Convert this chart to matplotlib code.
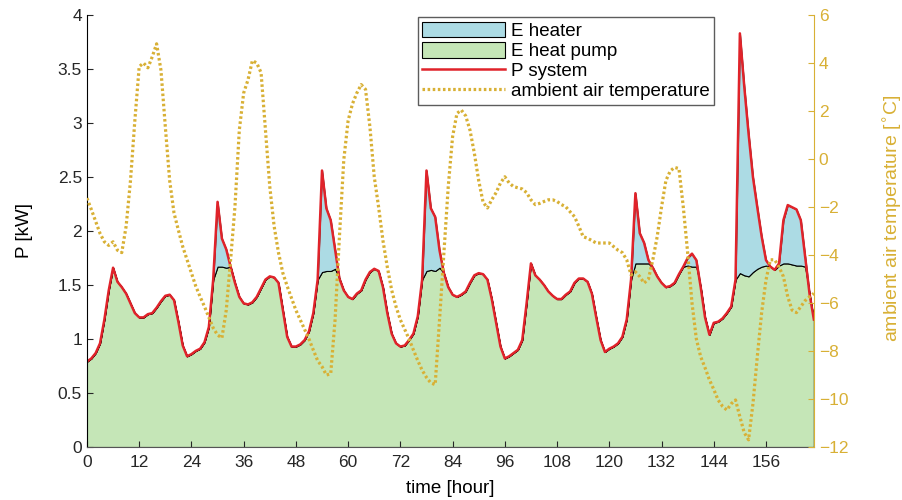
import numpy as np
import matplotlib.pyplot as plt

plt.rcParams['font.family'] = ['Liberation Sans', 'DejaVu Sans']

# hourly values, hour 0 .. 167
p_system = [
    0.79, 0.82, 0.87, 0.96, 1.18, 1.45, 1.66, 1.53, 1.48, 1.42, 1.33, 1.24,
    1.20, 1.20, 1.23, 1.24, 1.29, 1.35, 1.40, 1.41, 1.36, 1.16, 0.94, 0.84,
    0.86, 0.89, 0.91, 0.97, 1.11, 1.55, 2.27, 1.93, 1.83, 1.67, 1.52, 1.39,
    1.33, 1.32, 1.34, 1.39, 1.47, 1.55, 1.58, 1.57, 1.52, 1.27, 1.02, 0.93,
    0.93, 0.95, 0.99, 1.07, 1.24, 1.55, 2.56, 2.21, 2.10, 1.83, 1.56, 1.45,
    1.39, 1.37, 1.42, 1.45, 1.55, 1.62, 1.65, 1.63, 1.48, 1.24, 1.05, 0.96,
    0.93, 0.94, 0.99, 1.05, 1.21, 1.55, 2.56, 2.21, 2.13, 1.82, 1.61, 1.48,
    1.41, 1.39, 1.41, 1.44, 1.52, 1.59, 1.61, 1.60, 1.55, 1.37, 1.15, 0.93,
    0.82, 0.84, 0.87, 0.90, 0.99, 1.33, 1.70, 1.59, 1.55, 1.50, 1.44, 1.40,
    1.37, 1.37, 1.41, 1.44, 1.52, 1.56, 1.56, 1.53, 1.42, 1.20, 0.99, 0.88,
    0.91, 0.93, 0.96, 1.02, 1.18, 1.55, 2.35, 1.98, 1.89, 1.73, 1.66, 1.58,
    1.52, 1.48, 1.49, 1.52, 1.60, 1.67, 1.75, 1.79, 1.73, 1.48, 1.20, 1.04,
    1.15, 1.16, 1.19, 1.24, 1.30, 1.55, 3.83, 3.34, 2.90, 2.50, 2.22, 1.95,
    1.73, 1.67, 1.64, 1.70, 2.10, 2.24, 2.22, 2.20, 2.10, 1.76, 1.42, 1.18,
]

e_heater = [0.0] * 168
heater_hours = [30, 31, 32, 54, 55, 56, 57, 78, 79, 80, 81, 126, 127, 128, 129,
                138, 139, 140, 150, 151, 152, 153, 154, 155, 156, 159, 160, 161,
                162, 163, 164, 165]
heater_vals = [0.60, 0.26, 0.17, 0.94, 0.58, 0.47, 0.18, 0.93, 0.57, 0.50, 0.16,
               0.65, 0.28, 0.19, 0.03, 0.07, 0.12, 0.06, 2.22, 1.75, 1.32, 0.88,
               0.57, 0.28, 0.05, 0.02, 0.40, 0.54, 0.53, 0.52, 0.42, 0.09]
for h, v in zip(heater_hours, heater_vals):
    e_heater[h] = v

t_air = [
    -1.63, -2.10, -2.60, -3.10, -3.45, -3.60, -3.45, -3.80, -3.90, -2.80, -0.90, 1.60,
    3.85, 4.00, 3.80, 4.26, 4.80, 3.70, 1.35, -0.90, -2.25, -2.96, -3.65, -4.20,
    -4.75, -5.30, -5.74, -6.15, -6.60, -7.04, -7.33, -7.46, -6.30, -4.20, -1.99, 1.20,
    2.75, 3.30, 4.10, 4.00, 3.60, 1.20, -1.15, -2.80, -3.90, -4.75, -5.30, -5.80,
    -6.30, -6.70, -7.10, -7.50, -7.96, -8.40, -8.65, -9.00, -8.95, -6.70, -3.24, -0.04,
    1.60, 2.30, 2.75, 3.10, 2.90, 1.35, -0.74, -2.00, -3.40, -4.50, -5.46, -6.15,
    -6.70, -7.10, -7.50, -7.96, -8.40, -8.80, -9.10, -9.33, -9.40, -6.70, -3.90, -1.15,
    0.93, 1.90, 2.04, 1.80, 1.20, 0.24, -0.90, -1.80, -2.04, -1.70, -1.40, -1.00,
    -0.74, -1.00, -1.15, -1.20, -1.25, -1.40, -1.70, -1.90, -1.85, -1.77, -1.70, -1.70,
    -1.77, -1.90, -1.99, -2.20, -2.40, -2.80, -3.24, -3.30, -3.40, -3.50, -3.50, -3.50,
    -3.50, -3.65, -3.80, -3.90, -4.20, -4.83, -4.70, -4.90, -5.17, -5.00, -4.20, -3.24,
    -2.00, -0.90, -0.50, -0.35, -0.40, -2.00, -3.90, -6.00, -7.50, -8.24, -8.70, -9.20,
    -9.60, -10.04, -10.30, -10.46, -10.20, -10.04, -10.74, -11.40, -11.70, -10.20, -8.24, -6.40,
    -5.04, -4.20, -4.20, -4.50, -4.90, -5.74, -6.30, -6.40, -6.15, -5.90, -5.74, -5.60,
]

hours = np.arange(len(p_system))
p = np.array(p_system)
heater = np.array(e_heater)
heat_pump = p - heater

yellow = '#d8b035'

fig = plt.figure(figsize=(9.03, 5.0), dpi=100)
ax = fig.add_axes([0.0963, 0.106, 0.805, 0.864])

ax.fill_between(hours, 0, heat_pump, facecolor='#c5e6b7', edgecolor='black',
                linewidth=0.8, label='E heat pump')
ax.fill_between(hours, heat_pump, p, facecolor='#acdbe4', edgecolor='black',
                linewidth=0.8, label='E heater')
ax.plot(hours, p, color='#e0232a', linewidth=1.8, label='P system')

ax2 = ax.twinx()
ax2.plot(hours, t_air, color=yellow, linestyle=(0, (0.8, 0.8)), linewidth=2.3,
         label='ambient air temperature')

ax.set_xlim(0, 167)
ax.set_ylim(0, 4)
ax2.set_ylim(-12, 6)
ax.set_xticks(np.arange(0, 157, 12))
ax.set_yticks(np.arange(0, 4.01, 0.5))
ax.set_yticklabels(['0', '0.5', '1', '1.5', '2', '2.5', '3', '3.5', '4'])
ax2.set_yticks(np.arange(-12, 7, 2))

ax.tick_params(direction='in', length=4, labelsize=12.5, colors='#262626')
ax.tick_params(axis='x', pad=6)
ax2.tick_params(direction='in', length=4, labelsize=12.5, colors=yellow)

for a in (ax, ax2):
    a.spines['top'].set_visible(False)
ax.spines['right'].set_visible(False)
ax2.spines['right'].set_color(yellow)
ax2.spines['left'].set_visible(False)
ax2.spines['bottom'].set_visible(False)
ax.spines['bottom'].set_color('#555555')

ax.set_xlabel('time [hour]', fontsize=13.5, labelpad=7)
ax.set_ylabel('P [kW]', fontsize=13.5, labelpad=18)
ax2.set_ylabel('ambient air temperature [$^{\\circ}$C]', fontsize=14,
               color=yellow, labelpad=20)
ax2.yaxis.set_label_coords(1.093, 0.53)

h1, l1 = ax.get_legend_handles_labels()
h2, l2 = ax2.get_legend_handles_labels()
handles = [h1[1], h1[0], h1[2], h2[0]]
labels = [l1[1], l1[0], l1[2], l2[0]]
leg = ax2.legend(handles, labels, loc='upper left', bbox_to_anchor=(0.455, 0.995),
                 fontsize=13.5, frameon=True, fancybox=False, edgecolor='#333333',
                 borderpad=0.25, labelspacing=0.1, handlelength=4.4,
                 handleheight=0.9, handletextpad=0.3, borderaxespad=0)
leg.get_frame().set_linewidth(1.0)

fig.savefig('out.png', dpi=100)
